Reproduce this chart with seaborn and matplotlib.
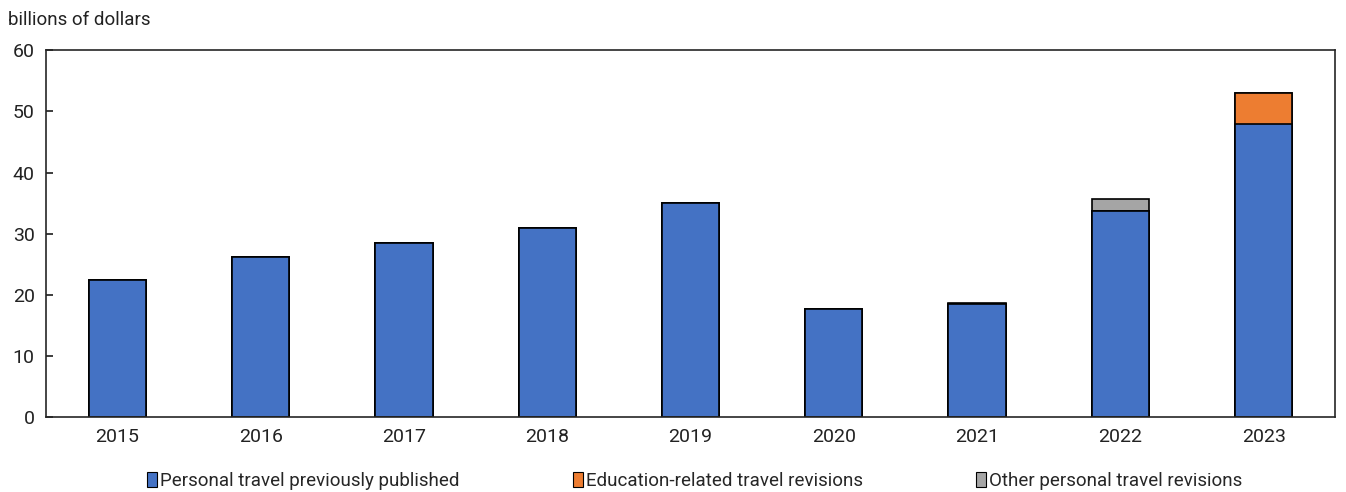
import matplotlib
matplotlib.use("Agg")
import matplotlib.pyplot as plt
import seaborn as sns
import pandas as pd
import numpy as np
from matplotlib.patches import Patch

years = ["2015", "2016", "2017", "2018", "2019", "2020", "2021", "2022", "2023"]
published = [22.4, 26.2, 28.4, 30.9, 35.0, 17.7, 18.5, 33.7, 47.9]
education = [0, 0, 0, 0, 0, 0, 0, 0, 5.1]
other = [0, 0, 0, 0, 0, 0, 0.1, 1.9, 0]

labels = ["Personal travel previously published", "Education-related travel revisions", "Other personal travel revisions"]
colors = ["#4472C4", "#ED7D31", "#A5A5A5"]

sns.set_theme(style="white")
plt.rcParams['font.family'] = ['Roboto', 'DejaVu Sans']

df = pd.DataFrame({"year": years, "pub": published, "edu": education, "oth": other})
df["l1"] = df["pub"]
df["l2"] = df["pub"] + df["edu"]
df["l3"] = df["pub"] + df["edu"] + df["oth"]

fig, ax = plt.subplots(figsize=(13.46, 4.92), dpi=100)
fig.subplots_adjust(left=0.034, right=0.992, top=0.898, bottom=0.152)

for col, c in [("l3", colors[2]), ("l2", colors[1]), ("l1", colors[0])]:
    sns.barplot(data=df, x="year", y=col, color=c, width=0.4, edgecolor="black",
                linewidth=1.2, saturation=1, ax=ax, zorder=2)

ax.set_ylim(0, 60)
ax.set_yticks(range(0, 61, 10))
ax.set_xlim(-0.5, len(years) - 0.5)
ax.set_xlabel("")
ax.set_ylabel("")
for s in ax.spines.values():
    s.set_visible(True)
    s.set_color("#262626")
    s.set_linewidth(1.2)
ax.tick_params(axis="y", direction="in", length=5, left=True, labelsize=14, colors="#262626", labelcolor="#222222", pad=8)
ax.tick_params(axis="x", length=0, labelsize=14, labelcolor="#222222", pad=8)

fig.text(0.006, 0.942, "billions of dollars", fontsize=13.5, color="#222222", ha="left", va="bottom")

handles = [Patch(facecolor=c, edgecolor="black", linewidth=0.8) for c in colors]
fig.legend(handles, labels, loc="lower center", ncol=3, frameon=False, fontsize=13.5,
           bbox_to_anchor=(0.516, -0.03), handlelength=0.55, handleheight=0.9, handletextpad=0.15,
           columnspacing=6.05)

fig.savefig("out.png", dpi=100)
